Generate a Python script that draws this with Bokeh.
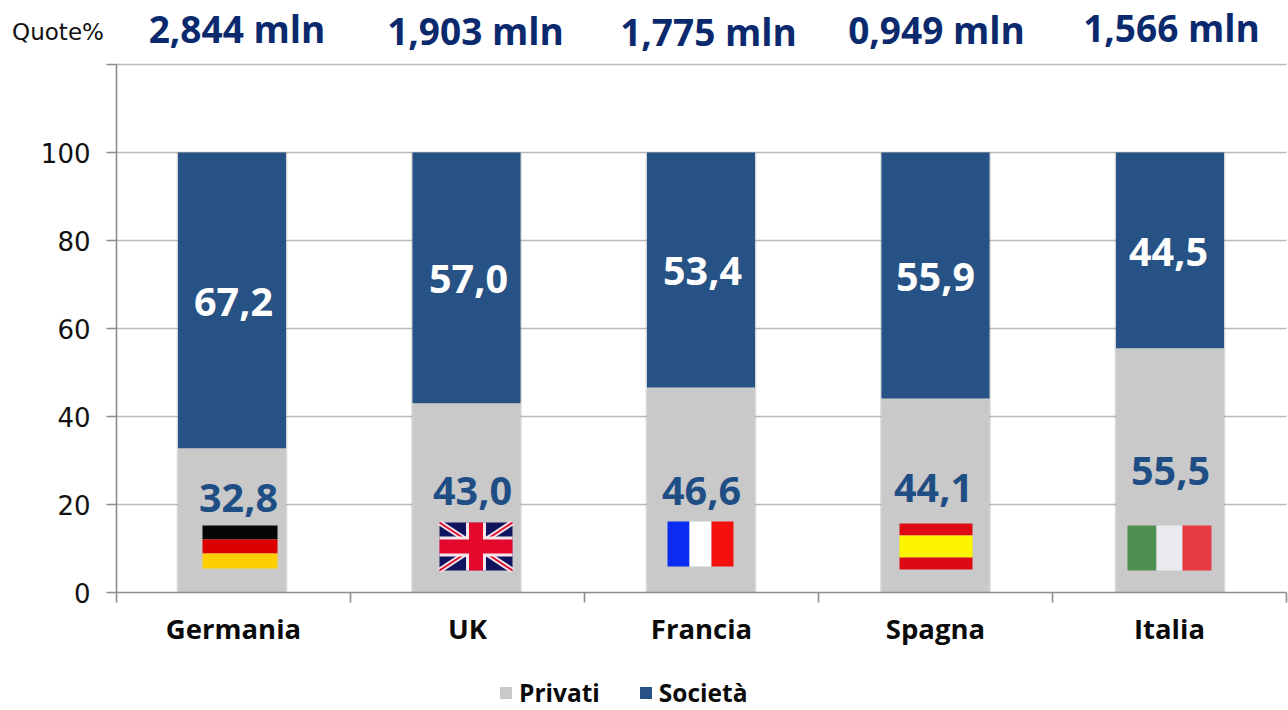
from bokeh.plotting import figure
from bokeh.embed import file_html
from bokeh.resources import INLINE
from bokeh.models import FixedTicker, Label, Legend, LegendItem, Range1d

categories = ["Germania", "UK", "Francia", "Spagna", "Italia"]
privati = [32.8, 43.0, 46.6, 44.1, 55.5]
societa = [67.2, 57.0, 53.4, 55.9, 44.5]
privati_labels = ["32,8", "43,0", "46,6", "44,1", "55,5"]
societa_labels = ["67,2", "57,0", "53,4", "55,9", "44,5"]
totals = ["2,844 mln", "1,903 mln", "1,775 mln", "0,949 mln", "1,566 mln"]
y_ticks = [0, 20, 40, 60, 80, 100, 120]

NAVY = "#265285"
GREY = "#c9c9c9"
FONT = "Open Sans"
X0, PXX, Y0, PXY = 116.0, 234.0, 592.0, 4.4
W_PX, H_PX = 1288, 710


def dx(px):
    return (px - X0) / PXX


def dy(py):
    return (Y0 - py) / PXY


p = figure(width=W_PX, height=H_PX, output_backend="svg", toolbar_location=None,
           x_range=Range1d(dx(0), dx(W_PX)), y_range=Range1d(dy(H_PX), dy(0)),
           min_border=0)
p.outline_line_color = None
p.background_fill_color = "white"
p.border_fill_color = "white"

p.xgrid.visible = False
p.ygrid.ticker = FixedTicker(ticks=y_ticks[1:])
p.ygrid.grid_line_color = "#b9b9b9"
p.ygrid.grid_line_width = 1.6
p.ygrid.cross_bounds = (0, 5)

ya = p.yaxis[0]
ya.fixed_location = 0
ya.bounds = (0, 120)
ya.ticker = FixedTicker(ticks=y_ticks)
ya.major_label_overrides = {120: ""}
ya.axis_line_color = "#8c8c8c"
ya.axis_line_width = 1.6
ya.major_tick_line_color = "#8c8c8c"
ya.major_tick_line_width = 1.6
ya.major_tick_in = 0
ya.major_tick_out = 10
ya.minor_tick_line_color = None
ya.major_label_text_font = "DejaVu Sans"
ya.major_label_text_font_size = "26px"
ya.major_label_text_color = "#111111"
ya.major_label_standoff = 16

xa = p.xaxis[0]
centers = [i + 0.5 for i in range(len(categories))]
xa.fixed_location = 0
xa.bounds = (0, 5)
xa.ticker = FixedTicker(ticks=centers, minor_ticks=list(range(len(categories) + 1)))
xa.major_label_overrides = {c: n for c, n in zip(centers, categories)}
xa.axis_line_color = "#8c8c8c"
xa.axis_line_width = 1.6
xa.major_tick_line_color = None
xa.minor_tick_line_color = "#8c8c8c"
xa.minor_tick_line_width = 1.6
xa.minor_tick_in = 0
xa.minor_tick_out = 10
xa.major_label_text_font = FONT
xa.major_label_text_font_style = "bold"
xa.major_label_text_font_size = "27.5px"
xa.major_label_text_color = "#0a0a0a"
xa.major_label_standoff = 7

W = 0.462
bar_shift_px = [-1.5, -1, -0.5, 0, 0.5]
bar_x = [c + s / PXX for c, s in zip(centers, bar_shift_px)]
p.vbar(x=bar_x, bottom=0, top=[100] * 5, width=W + 0.012, color="#8f8f8f", alpha=0.28, line_color=None)
r_priv = p.vbar(x=bar_x, bottom=0, top=privati, width=W, color=GREY, line_color=None)
r_soc = p.vbar(x=bar_x, bottom=privati, top=[a + b for a, b in zip(privati, societa)], width=W,
               color=NAVY, line_color=None)


def stripes_h(x1, x2, ys, cols):
    for i, c in enumerate(cols):
        p.quad(left=dx(x1), right=dx(x2), top=dy(ys[i]), bottom=dy(ys[i + 1]), color=c, line_color=None)


def stripes_v(xs, y1, y2, cols):
    for i, c in enumerate(cols):
        p.quad(left=dx(xs[i]), right=dx(xs[i + 1]), top=dy(y1), bottom=dy(y2), color=c, line_color=None)


stripes_h(202, 277, [525, 539, 553, 568], ["#050505", "#dd0000", "#ffce00"])
stripes_v([667, 689, 711, 733], 521, 566, ["#0a2bf0", "#ffffff", "#f50f0f"])
stripes_h(899, 972, [523, 535, 557, 569], ["#dd0a14", "#fdf500", "#dd0a14"])
stripes_v([1127, 1156, 1182, 1211], 525, 570, ["#4f8f4f", "#ebebef", "#e83a42"])

# UK flag
ux1, ux2, uy1, uy2 = 439, 512, 522, 570
p.quad(left=dx(ux1), right=dx(ux2), top=dy(uy1), bottom=dy(uy2), color="#10145e", line_color=None)
for w, c in [(5.5, "#f4e6ea"), (2, "#e01030")]:
    p.segment(x0=[dx(ux1), dx(ux1)], y0=[dy(uy1), dy(uy2)], x1=[dx(ux2), dx(ux2)], y1=[dy(uy2), dy(uy1)],
              line_width=w, line_color=c)
ucx, ucy = (ux1 + ux2) / 2, (uy1 + uy2) / 2
p.quad(left=dx(ucx - 10), right=dx(ucx + 10), top=dy(uy1), bottom=dy(uy2), color="#f4e6ea", line_color=None)
p.quad(left=dx(ux1), right=dx(ux2), top=dy(ucy - 10), bottom=dy(ucy + 10), color="#f4e6ea", line_color=None)
p.quad(left=dx(ucx - 7), right=dx(ucx + 7), top=dy(uy1), bottom=dy(uy2), color="#e4082c", line_color=None)
p.quad(left=dx(ux1), right=dx(ux2), top=dy(ucy - 7), bottom=dy(ucy + 7), color="#e4082c", line_color=None)

low_px = [(238, 497), (472, 490), (701, 490), (933, 487), (1170, 470)]
high_dx = [0, 1, 1, 0, -1]
top_px = [(236.5, 28), (475, 30), (708, 31), (936, 29), (1171, 27)]


def lab(x, y, txt, color, size, bold=True, font=FONT):
    p.add_layout(Label(x=x, y=y, text=txt, text_color=color, text_font=font, text_font_size=size,
                       text_font_style="bold" if bold else "normal",
                       text_align="center", text_baseline="middle"))


for i in range(5):
    lab(dx(low_px[i][0]), dy(low_px[i][1]), privati_labels[i], "#1f4e85", "39.5px")
    lab(centers[i] + high_dx[i] / PXX, privati[i] + societa[i] / 2 - 0.3, societa_labels[i], "#ffffff", "39.5px")
    lab(dx(top_px[i][0]), dy(top_px[i][1]), totals[i], "#0b2a6e", "37px")
lab(dx(57.5), dy(31), "Quote%", "#111111", "23px", bold=False, font="DejaVu Sans")

legend = Legend(items=[LegendItem(label="Privati", renderers=[r_priv]),
                       LegendItem(label="Società", renderers=[r_soc])],
                orientation="horizontal", location=(498, 1), spacing=38,
                glyph_width=15, glyph_height=15, label_standoff=6, padding=0, margin=0,
                border_line_color=None, background_fill_alpha=0,
                label_text_font=FONT, label_text_font_style="bold", label_text_font_size="24.5px",
                label_text_color="#0a0a0a")
p.add_layout(legend, "center")

open("out.html", "w").write(file_html(p, INLINE))
